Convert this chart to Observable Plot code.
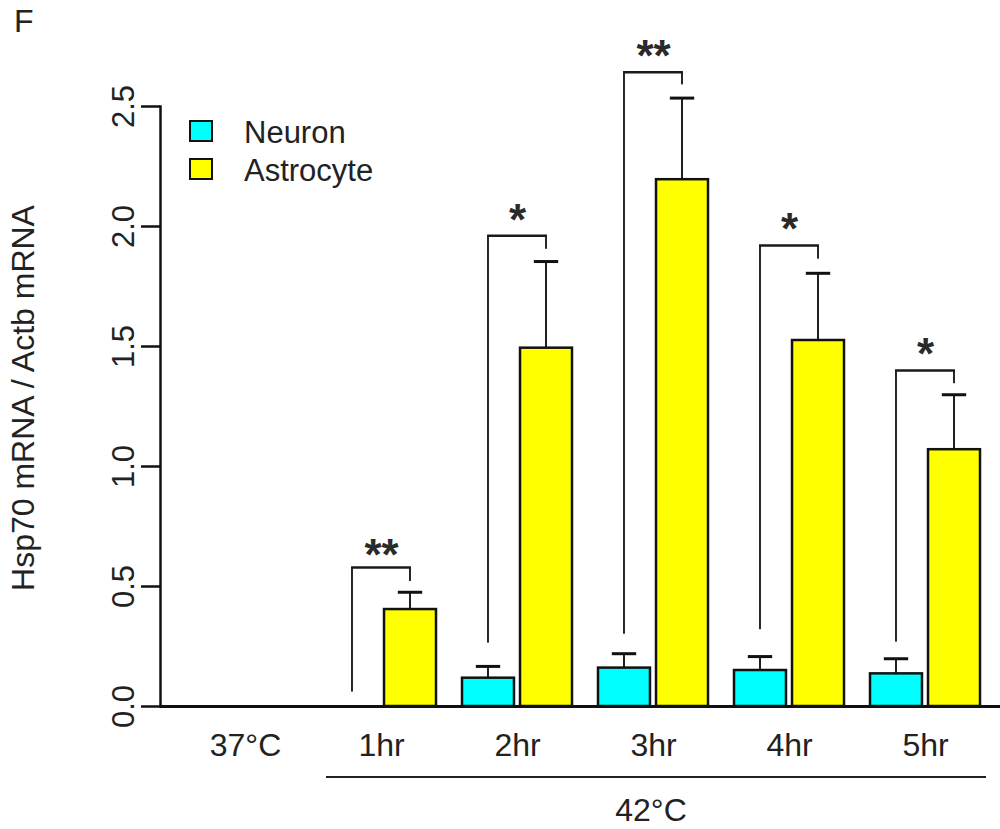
<!DOCTYPE html>
<html><head><meta charset="utf-8">
<script src="https://cdn.jsdelivr.net/npm/d3@7"></script>
<script src="https://cdn.jsdelivr.net/npm/@observablehq/plot@0.6"></script>
<style>
body{margin:0;background:#fff;font-family:"Liberation Sans",Arial,sans-serif;color:#222;}
#wrap{position:relative;width:1000px;height:829px;overflow:hidden;}
.abs{position:absolute;white-space:nowrap;line-height:1;}
.sw{position:absolute;box-sizing:border-box;border:2.5px solid #111;}
</style></head><body>
<div id="wrap"></div>
<script>
// ---- data ----
const groups = ["37°C", "1hr", "2hr", "3hr", "4hr", "5hr"];
const series = ["Neuron", "Astrocyte"];
const seriesColors = ["#00ffff", "#ffff00"];
const neuronMean = [0, 0, 0.118, 0.160, 0.150, 0.136];
const neuronSem  = [0, 0, 0.049, 0.060, 0.058, 0.063];
const astroMean  = [0, 0.404, 1.493, 2.195, 1.525, 1.070];
const astroSem   = [0, 0.072, 0.361, 0.340, 0.280, 0.229];
const sigLabels   = ["", "**", "*", "**", "*", "*"];
const bracketLow  = [null, 0.060, 0.264, 0.301, 0.320, 0.268];
const bracketHigh = [null, 0.579, 1.961, 2.643, 1.921, 1.400];
const bracketDrop = [null, 0.521, 1.905, 2.590, 1.864, 1.345];
const sigY        = [null, 0.654, 2.050, 2.730, 2.010, 1.490];
const yTicks = [0, 0.5, 1.0, 1.5, 2.0, 2.5];
const yLabel = "Hsp70 mRNA / Actb mRNA";
const groupTitle = "42°C";
const panelLetter = "F";

// ---- layout ----
const W = 1000, H = 829;
const mL = 160, mR = 0, mT = 106, mB = 123;
const xOpts = {type: "band", domain: groups, range: [mL, W - mR], paddingInner: 0.19, paddingOuter: 0.17, align: 0.607};
const bw = Plot.scale({x: xOpts}).bandwidth;
const gap = 5.4;
const barW = (bw - gap) / 2;
const cN = barW / 2, cA = bw - barW / 2;   // bar centres within group band
const capHalf = 12.5, lineHalf = 1.25;

const rows = [];
groups.forEach((g, i) => {
  rows.push({group: g, series: "Neuron", mean: neuronMean[i], sem: neuronSem[i]});
  rows.push({group: g, series: "Astrocyte", mean: astroMean[i], sem: astroSem[i]});
});
const nRows = rows.filter(d => d.series === "Neuron" && d.mean > 0);
const aRows = rows.filter(d => d.series === "Astrocyte" && d.mean > 0);
const sig = groups.map((g, i) => ({group: g, label: sigLabels[i], low: bracketLow[i], high: bracketHigh[i], drop: bracketDrop[i], ly: sigY[i]})).filter(d => d.label);

const ink = "#111";
const plot = Plot.plot({
  width: W, height: H,
  marginLeft: mL, marginRight: mR, marginTop: mT, marginBottom: mB,
  style: {fontFamily: "'Liberation Sans', Arial, sans-serif", color: "#222", background: "transparent"},
  x: xOpts,
  y: {domain: [0, 2.5]},
  color: {domain: series, range: seriesColors},
  marks: [
    // bars
    Plot.barY(nRows, {x: "group", y: "mean", fill: "series", stroke: ink, strokeWidth: 2.5, insetLeft: 0, insetRight: bw - barW}),
    Plot.barY(aRows, {x: "group", y: "mean", fill: "series", stroke: ink, strokeWidth: 2.5, insetLeft: bw - barW, insetRight: 0}),
    // error stems
    Plot.barY(nRows, {x: "group", y1: "mean", y2: d => d.mean + d.sem, fill: ink, insetLeft: cN - lineHalf, insetRight: bw - cN - lineHalf}),
    Plot.barY(aRows, {x: "group", y1: "mean", y2: d => d.mean + d.sem, fill: ink, insetLeft: cA - lineHalf, insetRight: bw - cA - lineHalf}),
    // error caps
    Plot.tickY(nRows, {x: "group", y: d => d.mean + d.sem, stroke: ink, strokeWidth: 3, insetLeft: cN - capHalf, insetRight: bw - cN - capHalf}),
    Plot.tickY(aRows, {x: "group", y: d => d.mean + d.sem, stroke: ink, strokeWidth: 3, insetLeft: cA - capHalf, insetRight: bw - cA - capHalf}),
    // significance brackets
    Plot.barY(sig, {x: "group", y1: "low", y2: "high", fill: "#1a1a1a", insetLeft: cN - lineHalf, insetRight: bw - cN - lineHalf}),
    Plot.barY(sig, {x: "group", y1: "drop", y2: "high", fill: "#1a1a1a", insetLeft: cA - lineHalf, insetRight: bw - cA - lineHalf}),
    Plot.tickY(sig, {x: "group", y: "high", stroke: "#1a1a1a", strokeWidth: 2.5, insetLeft: cN - lineHalf, insetRight: bw - cA - lineHalf}),
    Plot.text(sig, {x: "group", y: "ly", text: "label", fontSize: 44, fontWeight: "bold", fill: "#2a2a2a", dy: 6}),
    // axes
    Plot.ruleY([0], {stroke: ink, strokeWidth: 3}),
    Plot.frame({anchor: "left", stroke: ink, strokeWidth: 2.5}),
    Plot.axisY({ticks: yTicks, tickFormat: d3.format(".1f"), tickRotate: -90, tickSize: 19, tickPadding: 8, fontSize: 31, strokeWidth: 2.5, stroke: ink, label: null}),
    Plot.axisX({tickSize: 0, tickPadding: 27, fontSize: 32, label: null})
  ]
});
const wrap = document.getElementById("wrap");
plot.style.position = "absolute";
plot.style.left = "0px"; plot.style.top = "0px";
wrap.appendChild(plot);

// overlays: panel letter, y title, legend, group bracket
function addText(txt, left, top, size, center) {
  const d = document.createElement("div");
  d.className = "abs";
  d.textContent = txt;
  d.style.left = left + "px"; d.style.top = top + "px"; d.style.fontSize = size + "px";
  if (center) d.style.transform = "translateX(-50%)";
  wrap.appendChild(d);
  return d;
}
addText(panelLetter, 14, 5, 32);
const yt = addText(yLabel, 23, 398, 32);
yt.style.transform = "translate(-50%, -50%) rotate(-90deg)";
yt.style.lineHeight = "1.15";
series.forEach((s, i) => {
  const sw = document.createElement("div");
  sw.className = "sw";
  sw.style.left = "189px"; sw.style.top = (120 + i * 38) + "px";
  sw.style.width = "24px"; sw.style.height = "22px";
  sw.style.background = seriesColors[i];
  wrap.appendChild(sw);
  addText(s, 244, 116.5 + i * 38, 31);
});
const line = document.createElement("div");
line.style.cssText = "position:absolute;left:326px;top:775.5px;width:660px;height:2px;background:#222;";
wrap.appendChild(line);
addText(groupTitle, 651, 794, 32, true);
</script>
</body></html>
